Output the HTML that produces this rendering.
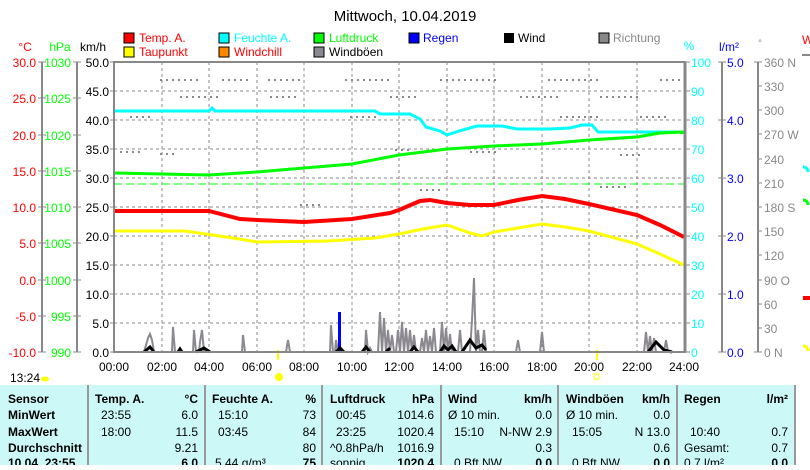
<!DOCTYPE html>
<html><head><meta charset="utf-8"><style>
body{margin:0;background:#fff;width:810px;height:465px;overflow:hidden;font-family:"Liberation Sans",sans-serif}
svg text{font-family:"Liberation Sans",sans-serif}
</style></head><body>
<svg width="810" height="465" xmlns="http://www.w3.org/2000/svg" font-size="12">
<text x="405" y="21" font-size="15" text-anchor="middle">Mittwoch, 10.04.2019</text>
<g font-size="12">
<rect x="124" y="33" width="10" height="10" fill="#f00" stroke="#000"/><text x="139" y="42" fill="#f00">Temp. A.</text>
<rect x="124" y="47" width="10" height="10" fill="#ff0" stroke="#000"/><text x="139" y="56" fill="#f00">Taupunkt</text>
<rect x="219" y="33" width="10" height="10" fill="#0ff" stroke="#000"/><text x="234" y="42" fill="#0ff">Feuchte A.</text>
<rect x="219" y="47" width="10" height="10" fill="#f80" stroke="#000"/><text x="234" y="56" fill="#f00">Windchill</text>
<rect x="314" y="33" width="10" height="10" fill="#0f0" stroke="#000"/><text x="329" y="42" fill="#0f0">Luftdruck</text>
<rect x="314" y="47" width="10" height="10" fill="#8c8890" stroke="#000"/><text x="329" y="56">Windböen</text>
<rect x="409" y="33" width="10" height="10" fill="#00f" stroke="#000"/><text x="423" y="42" fill="#00f">Regen</text>
<rect x="504" y="33" width="10" height="10" fill="#000"/><text x="518" y="42">Wind</text>
<rect x="599" y="33" width="10" height="10" fill="#888" stroke="#000"/><text x="613" y="42" fill="#888">Richtung</text>
</g>
<text x="25" y="51" fill="#f00" text-anchor="middle">°C</text>
<text x="60" y="51" fill="#0f0" text-anchor="middle">hPa</text>
<text x="93" y="51" text-anchor="middle">km/h</text>
<text x="689" y="50" fill="#0ff" text-anchor="middle">%</text>
<text x="729" y="51" fill="#00f" text-anchor="middle">l/m²</text>
<text x="760" y="46" fill="#888" font-size="9" text-anchor="middle">°</text>
<text x="802" y="44" fill="#f00">W</text>
<g stroke="#888" stroke-width="2"><line x1="42" y1="62" x2="42" y2="352"/><line x1="77" y1="62" x2="77" y2="352"/>
<line x1="722" y1="62" x2="722" y2="352"/><line x1="758" y1="62" x2="758" y2="352"/></g>
<g stroke="#888" stroke-width="1">
<path d="M38 62h8M38 98h8M38 135h8M38 171h8M38 207h8M38 243h8M38 280h8M38 316h8M38 352h8"/>
<path d="M73 62h8M73 98h8M73 135h8M73 171h8M73 207h8M73 243h8M73 280h8M73 316h8M73 352h8"/>
<path d="M718 62h8M718 120h8M718 178h8M718 236h8M718 294h8M718 352h8"/>
<path d="M754 62h8M758 86h4M758 110h4M758 134h4M758 159h4M758 183h4M758 207h4M758 231h4M758 255h4M758 280h4M758 304h4M758 328h4M754 352h8"/>
<path d="M686 62h4M686 91h4M686 120h4M686 149h4M686 178h4M686 207h4M686 236h4M686 265h4M686 294h4M686 323h4M686 352h4"/>
<path d="M110 62h4M110 91h4M110 120h4M110 149h4M110 178h4M110 207h4M110 236h4M110 265h4M110 294h4M110 323h4M110 352h4"/>
</g>
<g fill="#f00" text-anchor="end"><text x="36" y="67">30.0</text><text x="36" y="103">25.0</text><text x="36" y="140">20.0</text><text x="36" y="176">15.0</text><text x="36" y="212">10.0</text><text x="36" y="248">5.0</text><text x="36" y="285">0.0</text><text x="36" y="321">-5.0</text><text x="36" y="357">-10.0</text></g>
<g fill="#0f0" text-anchor="end"><text x="71" y="67">1030</text><text x="71" y="103">1025</text><text x="71" y="140">1020</text><text x="71" y="176">1015</text><text x="71" y="212">1010</text><text x="71" y="248">1005</text><text x="71" y="285">1000</text><text x="71" y="321">995</text><text x="71" y="357">990</text></g>
<g text-anchor="end"><text x="109" y="67">50.0</text><text x="109" y="96">45.0</text><text x="109" y="125">40.0</text><text x="109" y="154">35.0</text><text x="109" y="183">30.0</text><text x="109" y="212">25.0</text><text x="109" y="241">20.0</text><text x="109" y="270">15.0</text><text x="109" y="299">10.0</text><text x="109" y="328">5.0</text><text x="109" y="357">0.0</text></g>
<g fill="#0ff"><text x="691" y="67">100</text><text x="691" y="96">90</text><text x="691" y="125">80</text><text x="691" y="154">70</text><text x="691" y="183">60</text><text x="691" y="212">50</text><text x="691" y="241">40</text><text x="691" y="270">30</text><text x="691" y="299">20</text><text x="691" y="328">10</text><text x="691" y="357">0</text></g>
<g fill="#00f"><text x="727" y="67">5.0</text><text x="727" y="125">4.0</text><text x="727" y="183">3.0</text><text x="727" y="241">2.0</text><text x="727" y="299">1.0</text><text x="727" y="357">0.0</text></g>
<g fill="#888"><text x="764" y="67">360 N</text><text x="764" y="91">330</text><text x="764" y="115">300</text><text x="764" y="139">270 W</text><text x="764" y="164">240</text><text x="764" y="188">210</text><text x="764" y="212">180 S</text><text x="764" y="236">150</text><text x="764" y="260">120</text><text x="764" y="285">90  O</text><text x="764" y="309">60</text><text x="764" y="333">30</text><text x="764" y="357">0    N</text></g>
<g stroke="#888" stroke-dasharray="3,3" stroke-width="1">
<path d="M162 62V352M209 62V352M257 62V352M304 62V352M352 62V352M399 62V352M447 62V352M494 62V352M542 62V352M589 62V352M637 62V352"/>
<path d="M114 91H684M114 120H684M114 149H684M114 178H684M114 207H684M114 236H684M114 265H684M114 294H684M114 323H684"/>
</g>
<g stroke="#888" stroke-width="2" stroke-dasharray="2,4">
<path d="M160 80H200M222 80H250M268 80H300M345 80H390M440 80H500M548 80H600M660 80H680"/>
<path d="M180 97H220M270 97H300M390 97H420M520 97H560M600 97H640"/>
<path d="M130 117H150M350 117H380M560 117H600M640 117H670"/>
<path d="M120 152H140M160 154H176M395 150H410M470 152H500M620 155H640"/>
<path d="M600 187H630M420 190H440M300 205H320"/>
</g>
<line x1="114" y1="184" x2="684" y2="184" stroke="#0f0" stroke-width="1" stroke-dasharray="8,4"/>
<g stroke="#8c8890" stroke-width="2" fill="none">
<path d="M144 352L148 338 150 334 152 340 154 352M172 352L173 327 175 352M193 352L194 330 196 352M199 352L200 342 202 330 204 352M242 352L243 335 245 352M286 352L288 340 290 352M330 352L331 325 333 352M335 352L336 340 338 352M365 352L366 330 368 352 370 348 372 352M378 352L380 312 382 352 384 318 386 352 388 330 390 352 392 335 394 352M396 352L398 330 400 352 402 322 404 352 406 328 408 352 410 330 412 352 414 335 416 352M420 352L422 338 424 352 426 330 428 352 430 336 432 352 434 328 436 352M440 352L442 322 444 352 446 328 448 352 450 334 452 352M458 352L460 330 462 352M470 352L472 320 474 278 476 352 478 330 480 352M482 352L484 330 486 352M516 352L518 340 520 352M540 352L542 332 544 352M644 352L646 332 648 352 650 336 652 352 654 338 656 352M664 352L666 340 668 352"/>
</g>
<rect x="338" y="312" width="3" height="40" fill="#00f"/>
<path d="M144 352L150 347 154 352M178 352L180 349 182 352M196 352L204 348 210 352M336 352L340 348 344 352M362 352L366 347 370 352M386 352L390 348M410 352L414 347 418 352M440 352L444 346 448 350 452 346 456 352M462 352L470 340 476 348 482 345 486 350M648 352L656 342 664 350 672 352" stroke="#000" stroke-width="3" fill="none"/>
<line x1="114" y1="352" x2="684" y2="352" stroke="#00f" stroke-width="2"/>
<polyline fill="none" stroke="#0ff" stroke-width="3" points="114,111 209,111 212,108 215,111 375,111 380,114 410,114 420,119 426,127 440,131 447,135 459,131 477,126 502,126 517,129 550,129 570,128 582,125 592,125 598,132 684,132"/>
<polyline fill="none" stroke="#0f0" stroke-width="3" points="114,173 162,174 209,175 257,172 304,168 352,164 399,155 423,152 447,149 494,146 542,144 589,140 637,137 660,133 684,132"/>
<polyline fill="none" stroke="#f00" stroke-width="4" points="114,211 209,211 240,219 257,220 304,222 352,219 390,213 399,210 420,201 430,200 447,203 470,205 494,205 518,200 542,196 565,199 589,204 637,215 660,225 684,237"/>
<polyline fill="none" stroke="#ff0" stroke-width="3" points="114,231 185,231 233,238 257,242 328,241 375,238 399,234 423,229 447,225 470,233 482,236 494,232 518,228 542,224 565,227 589,231 637,244 660,254 684,265"/>
<rect x="680" y="131" width="6" height="3" fill="#0f0"/>
<path d="M803 167c3,0 5,2 5,5" stroke="#0ff" stroke-width="3" fill="none"/>
<path d="M802 55h8" stroke="#888" stroke-width="2"/>
<path d="M803 200c3,0 5,2 5,5" stroke="#0f0" stroke-width="3" fill="none"/>
<rect x="803" y="296" width="7" height="4" fill="#f00"/>
<path d="M803 346c3,0 5,2 5,5" stroke="#ff0" stroke-width="3" fill="none"/>
<g text-anchor="middle"><text x="114" y="371">00:00</text><text x="162" y="371">02:00</text><text x="209" y="371">04:00</text><text x="257" y="371">06:00</text><text x="304" y="371">08:00</text><text x="352" y="371">10:00</text><text x="399" y="371">12:00</text><text x="447" y="371">14:00</text><text x="494" y="371">16:00</text><text x="542" y="371">18:00</text><text x="589" y="371">20:00</text><text x="637" y="371">22:00</text><text x="684" y="371">24:00</text></g>
<line x1="278" y1="350" x2="278" y2="360" stroke="#ff0" stroke-width="2"/>
<line x1="597" y1="350" x2="597" y2="360" stroke="#ff0" stroke-width="2"/>
<circle cx="279" cy="377" r="4" fill="#ff0"/>
<rect x="594" y="374" width="5" height="5" fill="none" stroke="#ff0"/>
<text x="10" y="382">13:24</text><ellipse cx="45" cy="379" rx="4" ry="2.5" fill="#ff0"/>
<rect x="0" y="385" width="795" height="80" fill="#ccf8f8"/>
<g stroke="#999" stroke-width="2"><path d="M88 385V465M205 385V465M322 385V465M441 385V465M558 385V465M677 385V465M795 385V465"/></g>
<g font-size="12">
<g font-weight="bold"><text x="8" y="403">Sensor</text><text x="8" y="419">MinWert</text><text x="8" y="436">MaxWert</text><text x="8" y="452">Durchschnitt</text><text x="8" y="467">10.04. 23:55</text>
<text x="95" y="403">Temp. A.</text><text x="198" y="403" text-anchor="end">°C</text>
<text x="212" y="403">Feuchte A.</text><text x="316" y="403" text-anchor="end">%</text>
<text x="330" y="403">Luftdruck</text><text x="434" y="403" text-anchor="end">hPa</text>
<text x="448" y="403">Wind</text><text x="552" y="403" text-anchor="end">km/h</text>
<text x="566" y="403">Windböen</text><text x="670" y="403" text-anchor="end">km/h</text>
<text x="684" y="403">Regen</text><text x="788" y="403" text-anchor="end">l/m²</text>
<text x="198" y="467" text-anchor="end">6.0</text><text x="316" y="467" text-anchor="end">75</text><text x="434" y="467" text-anchor="end">1020.4</text><text x="552" y="467" text-anchor="end">0.0</text><text x="670" y="467" text-anchor="end">0.0</text><text x="788" y="467" text-anchor="end">0.0</text></g>
<text x="101" y="419">23:55</text><text x="198" y="419" text-anchor="end">6.0</text>
<text x="101" y="436">18:00</text><text x="198" y="436" text-anchor="end">11.5</text>
<text x="198" y="452" text-anchor="end">9.21</text>
<text x="218" y="419">15:10</text><text x="316" y="419" text-anchor="end">73</text>
<text x="218" y="436">03:45</text><text x="316" y="436" text-anchor="end">84</text>
<text x="316" y="452" text-anchor="end">80</text><text x="215" y="467">5.44 g/m³</text>
<text x="336" y="419">00:45</text><text x="434" y="419" text-anchor="end">1014.6</text>
<text x="336" y="436">23:25</text><text x="434" y="436" text-anchor="end">1020.4</text>
<text x="330" y="452">^0.8hPa/h</text><text x="434" y="452" text-anchor="end">1016.9</text><text x="330" y="467">sonnig</text>
<text x="448" y="419">Ø 10 min.</text><text x="552" y="419" text-anchor="end">0.0</text>
<text x="454" y="436">15:10</text><text x="552" y="436" text-anchor="end">N-NW 2.9</text>
<text x="552" y="452" text-anchor="end">0.3</text><text x="454" y="467">0 Bft NW</text>
<text x="566" y="419">Ø 10 min.</text><text x="670" y="419" text-anchor="end">0.0</text>
<text x="572" y="436">15:05</text><text x="670" y="436" text-anchor="end">N 13.0</text>
<text x="670" y="452" text-anchor="end">0.6</text><text x="572" y="467">0 Bft NW</text>
<text x="690" y="436">10:40</text><text x="788" y="436" text-anchor="end">0.7</text>
<text x="684" y="452">Gesamt:</text><text x="788" y="452" text-anchor="end">0.7</text><text x="684" y="467">0.7 l/m²</text>
</g>
<rect x="114" y="62" width="571" height="290" fill="none" stroke="#888" stroke-width="2"/>
<line x1="685" y1="62" x2="685" y2="352" stroke="#888" stroke-width="3"/>
</svg>
</body></html>
